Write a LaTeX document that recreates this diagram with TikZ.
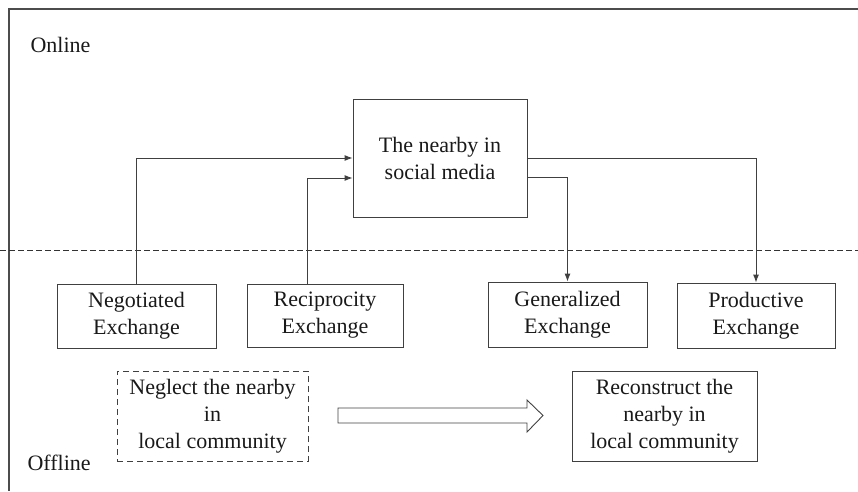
\documentclass[tikz,border=0pt]{standalone}
\usepackage{fontspec}
\setmainfont{Liberation Serif}
\usetikzlibrary{arrows.meta}

\begin{document}
\begin{tikzpicture}[x=1pt,y=-1pt,
        txt/.style={text=black!90,font=\fontsize{22}{27}\selectfont},
        box/.style={txt,draw=black!75,line width=0.9pt,align=center,inner sep=0pt},
        link/.style={draw=black!75,line width=0.9pt,-{Latex[length=8pt,width=6pt]}}]
            \useasboundingbox (0,0) rectangle (858,491);
            \draw[black!70,line width=1.2pt] (858,9) -- (9,9) -- (9,491);
            \draw[black!80,line width=0.9pt,dash pattern=on 6pt off 3pt] (0,250) -- (858,250);

            \node[txt,anchor=base west] (online) at (27,52) {Online};
            \node[txt,anchor=base west] (offline) at (24,470) {Offline};

            \node[box,minimum width=174,minimum height=118] (social) at (440,158) {The nearby in\\social media};

            \node[box,minimum width=159,minimum height=64] (nego) at (136.5,316) {Negotiated\\Exchange};
            \node[box,minimum width=156,minimum height=63] (recip) at (325,315.5) {Reciprocity\\Exchange};
            \node[box,minimum width=159,minimum height=65] (gener) at (567.5,314.5) {Generalized\\Exchange};
            \node[box,minimum width=158,minimum height=65] (produc) at (756,315.5) {Productive\\Exchange};

            \node[box,dash pattern=on 6pt off 4pt,minimum width=191,minimum height=90] (neglect) at (212.5,416) {Neglect the nearby\\in\\local community};
            \node[box,minimum width=185,minimum height=90] (recon) at (664.5,416) {Reconstruct the\\nearby in\\local community};

            \draw[link] (nego.north) |- (social.west);
            \draw[link] ([xshift=-18pt]recip.north) |- ([yshift=-20pt]social.west);
            \draw[link] (social.east) -| (produc.north);
            \draw[link] ([yshift=-19pt]social.east) -| (gener.north);

            \draw[black!75,line width=0.9pt] (338,408) -- (527,408) -- (527,400) -- (543,415.5)
                -- (527,432) -- (527,423) -- (338,423) -- cycle;
        \end{tikzpicture}
\end{document}
